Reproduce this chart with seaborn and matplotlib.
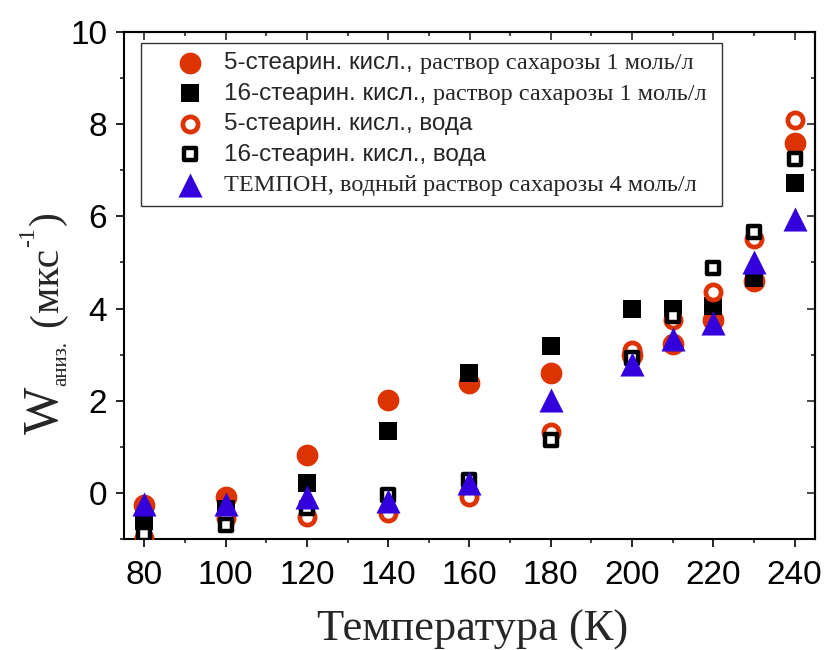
import matplotlib
matplotlib.use("Agg")
import matplotlib.pyplot as plt
import seaborn as sns
import pandas as pd
from matplotlib.ticker import MultipleLocator

# Temperature points, K
temperature = [80, 100, 120, 140, 160, 180, 200, 210, 220, 230, 240]

# Anisotropic relaxation rate W, 1/us
w_5sa_sucrose = [-0.26, -0.09, 0.83, 2.02, 2.39, 2.61, 3.00, 3.22, 3.76, 4.60, 7.60]
w_16sa_sucrose = [-0.60, -0.35, 0.21, 1.35, 2.60, 3.18, 3.98, 3.98, 4.05, 4.67, 6.73]
w_5sa_water = [-0.97, -0.55, -0.52, -0.43, -0.08, 1.33, 3.10, 3.76, 4.35, 5.50, 8.10]
w_16sa_water = [-0.90, -0.70, -0.33, -0.05, 0.28, 1.15, 2.93, 3.83, 4.89, 5.65, 7.24]
w_tempone = [-0.24, -0.24, -0.08, -0.18, 0.22, 2.02, 2.80, 3.33, 3.68, 5.00, 5.95]

# legend text: sans-serif part, serif part
label_sans = ["5-стеарин. кисл.,", "16-стеарин. кисл.,",
              "5-стеарин. кисл., вода", "16-стеарин. кисл., вода",
              "ТЕМПОН, водный раствор сахарозы 4 моль/л"]
label_serif = ["раствор сахарозы 1 моль/л", "раствор сахарозы 1 моль/л", "", "", ""]

x_ticks = [80, 100, 120, 140, 160, 180, 200, 220, 240]
y_ticks = [0, 2, 4, 6, 8, 10]

RED = "#DC3300"
BLUE = "#3300DD"
SANS = "Liberation Sans"
SERIF = "Liberation Serif"
LEG_FS = 17.5

sns.set_theme(style="ticks")
plt.rcParams["font.family"] = [SANS, "DejaVu Sans"]
plt.rcParams["axes.linewidth"] = 1.5

df = pd.DataFrame({
    "T": temperature,
    "s5_suc": w_5sa_sucrose,
    "s16_suc": w_16sa_sucrose,
    "s5_w": w_5sa_water,
    "s16_w": w_16sa_water,
    "temp": w_tempone,
})

fig = plt.figure(figsize=(8.26, 6.5), dpi=100)
ax = fig.add_axes([124 / 826, 111 / 650, 691 / 826, 507 / 650])

styles = [
    dict(y="s5_suc", marker="o", s=245, color=RED, edgecolor=RED, linewidth=0),
    dict(y="s16_suc", marker="s", s=185, color="black", edgecolor="black", linewidth=0),
    dict(y="s5_w", marker="o", s=120, color="white", edgecolor=RED, linewidth=3.4),
    dict(y="s16_w", marker="s", s=85, color="white", edgecolor="black", linewidth=3.2),
    dict(y="temp", marker="^", s=300, color=BLUE, edgecolor=BLUE, linewidth=0),
]
for i, st in enumerate(styles):
    sns.scatterplot(data=df, x="T", ax=ax, label=label_sans[i], legend=False,
                    zorder=3 + i, **st)

ax.set_xlim(75, 245)
ax.set_ylim(-1, 10)
ax.set_xticks(x_ticks)
ax.set_yticks(y_ticks)
ax.xaxis.set_minor_locator(MultipleLocator(10))
ax.yaxis.set_minor_locator(MultipleLocator(1))
ax.tick_params(which="major", direction="out", length=6, width=1.2,
               labelsize=24, colors="black")
ax.tick_params(which="minor", direction="out", length=3, width=1.2)
ax.tick_params(axis="x", pad=9)
ax.tick_params(axis="y", pad=6)
for sp in ax.spines.values():
    sp.set_visible(True)
    sp.set_linewidth(1.5)
    sp.set_color("black")
ax.set_xlabel("")
ax.set_ylabel("")

# inward ticks on the mirrored axes
top = ax.secondary_xaxis("top")
top.set_xticks(x_ticks)
top.xaxis.set_minor_locator(MultipleLocator(10))
top.tick_params(which="major", direction="in", length=6, width=1.2, labeltop=False)
top.tick_params(which="minor", direction="in", length=3, width=1.2)
right = ax.secondary_yaxis("right")
right.set_yticks(y_ticks)
right.yaxis.set_minor_locator(MultipleLocator(1))
right.tick_params(which="major", direction="in", length=6, width=1.2, labelright=False)
right.tick_params(which="minor", direction="in", length=3, width=1.2)

# legend
handles = ax.collections[:5]
leg = ax.legend(handles, label_sans, loc="upper left",
                bbox_to_anchor=(17 / 691, 0.0, 581 / 691, 1 - 11 / 507),
                mode="expand", fontsize=LEG_FS, frameon=True, fancybox=False,
                borderpad=0.38, labelspacing=0.35, handlelength=3.3,
                handletextpad=-0.25, borderaxespad=0)
leg.get_frame().set_edgecolor("#333333")
leg.get_frame().set_linewidth(1.0)
leg.get_frame().set_alpha(1)
texts = leg.get_texts()
texts[4].set_fontfamily(SERIF)
for txt, extra in zip(texts, label_serif):
    if extra:
        ax.annotate(extra, xy=(1, 0), xycoords=txt, xytext=(5, 0),
                    textcoords="offset points", ha="left", va="bottom",
                    fontsize=LEG_FS, family=SERIF, zorder=10,
                    annotation_clip=False)

# x axis title
fig.text(473 / 826, 9 / 650, "Температура (К)", ha="center", va="baseline",
         fontsize=32, family=SERIF)

# y axis title built from pieces stacked along the rotated baseline
def piece(prev, text, size, baseline_px, gap_px):
    if prev is None:
        xy, coords = (baseline_px, gap_px), "figure pixels"
        off = (0, 0)
    else:
        xy, coords = (baseline_px, 1.0), ("figure pixels", prev)
        off = (0, gap_px * 72 / 100)
    return ax.annotate(text, xy=xy, xycoords=coords, xytext=off,
                       textcoords="offset points", rotation=90,
                       rotation_mode="anchor", ha="left", va="baseline",
                       fontsize=size, family=SERIF, annotation_clip=False)

p = piece(None, "W", 36, 58, 216)
p = piece(p, "аниз.", 15, 66, 1)
p = piece(p, "(", 30, 58, 14)
p = piece(p, "мкс", 30, 58, 1)
p = piece(p, "-1", 17, 34, 1)
p = piece(p, ")", 30, 58, 2)

fig.savefig("out.png", dpi=100)
